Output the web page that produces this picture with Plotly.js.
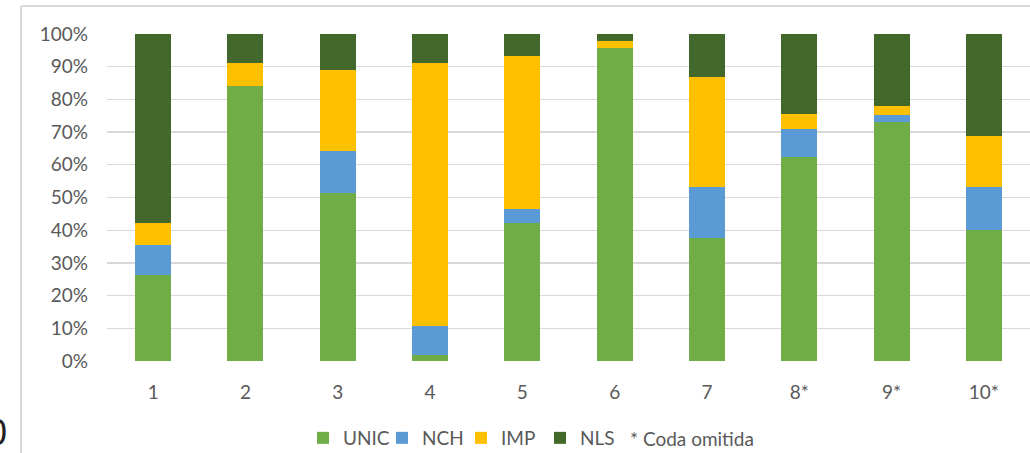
<!DOCTYPE html>
<html>
<head>
<meta charset="utf-8">
<script src="https://cdn.plot.ly/plotly-3.0.1.min.js"></script>
<style>
html,body{margin:0;padding:0;background:#fff;}
#chart{width:1030px;height:453px;}
</style>
</head>
<body>
<div id="chart"></div>
<script>
var categories = ['1','2','3','4','5','6','7','8*','9*','10*'];
var unic = [26.4, 84.1, 51.3, 1.7, 42.1, 95.7, 37.5, 62.3, 73.2, 40.1];
var nch  = [9.0, 0.0, 13.0, 9.0, 4.4, 0.0, 15.8, 8.7, 2.1, 13.0];
var imp  = [6.7, 7.0, 24.7, 80.4, 46.8, 2.2, 33.5, 4.4, 2.6, 15.8];
var nls  = [57.9, 8.9, 11.0, 8.9, 6.7, 2.1, 13.2, 24.6, 22.1, 31.1];
var seriesNames = ['UNIC','NCH','IMP','NLS'];
var seriesColors = ['#70AD47','#5B9BD5','#FFC000','#43682B'];
var tickVals = [0,10,20,30,40,50,60,70,80,90,100];
var tickText = ['0%','10%','20%','30%','40%','50%','60%','70%','80%','90%','100%'];
var noteText = '* Coda omitida';

var font = 'Lato, "Open Sans", sans-serif';
var data = [unic, nch, imp, nls].map(function(vals, i){
  return {
    type: 'bar',
    name: seriesNames[i],
    x: categories,
    y: vals,
    marker: {color: seriesColors[i], line: {width: 0}},
    hoverinfo: 'skip'
  };
});

var layout = {
  width: 1030,
  height: 453,
  margin: {l: 107, r: 0, t: 34, b: 92, pad: 0, autoexpand: false},
  paper_bgcolor: '#ffffff',
  plot_bgcolor: '#ffffff',
  barmode: 'stack',
  bargap: 0.61,
  showlegend: true,
  font: {family: font, size: 19, color: '#595959'},
  xaxis: {
    type: 'category',
    showgrid: false,
    zeroline: false,
    showline: false,
    ticks: '',
    ticklabelstandoff: 18,
    tickfont: {family: font, size: 19, color: '#595959'},
    automargin: false,
    fixedrange: true
  },
  yaxis: {
    range: [0, 100],
    tickvals: tickVals,
    ticktext: tickText,
    showgrid: true,
    gridcolor: '#D9D9D9',
    gridwidth: 1.3,
    zeroline: false,
    showline: false,
    ticks: '',
    ticklabelstandoff: 18,
    tickfont: {family: font, size: 19, color: '#595959'},
    automargin: false,
    fixedrange: true
  },
  legend: {
    orientation: 'h',
    x: (303 - 107) / 923,
    xanchor: 'left',
    y: (361 - 438) / 327,
    yanchor: 'middle',
    traceorder: 'normal',
    itemwidth: 30,
    itemgap: 0,
    entrywidthmode: 'pixels',
    entrywidth: 34,
    font: {family: font, size: 19, color: '#595959'},
    bgcolor: 'rgba(0,0,0,0)'
  },
  annotations: [
    {
      xref: 'paper', yref: 'paper',
      x: (628 - 107) / 923, y: (361 - 438) / 327,
      xanchor: 'left', yanchor: 'middle',
      text: noteText, showarrow: false,
      font: {family: font, size: 19, color: '#595959'}
    },
    {
      xref: 'paper', yref: 'paper',
      x: (-15 - 107) / 923, y: (361 - 432) / 327,
      xanchor: 'left', yanchor: 'middle',
      text: '0', showarrow: false,
      font: {family: 'Liberation Sans, Arial, sans-serif', size: 36, color: '#222222'}
    }
  ],
  shapes: [
    {type: 'line', xref: 'paper', yref: 'paper',
     x0: (21 - 107) / 923, x1: (21 - 107) / 923,
     y0: (361 - 6) / 327, y1: (361 - 460) / 327,
     line: {color: '#D9D9D9', width: 2}},
    {type: 'line', xref: 'paper', yref: 'paper',
     x0: (21 - 107) / 923, x1: 1.05,
     y0: (361 - 6) / 327, y1: (361 - 6) / 327,
     line: {color: '#D9D9D9', width: 2}}
  ]
};

Plotly.newPlot('chart', data, layout, {displayModeBar: false, staticPlot: true});
</script>
</body>
</html>
